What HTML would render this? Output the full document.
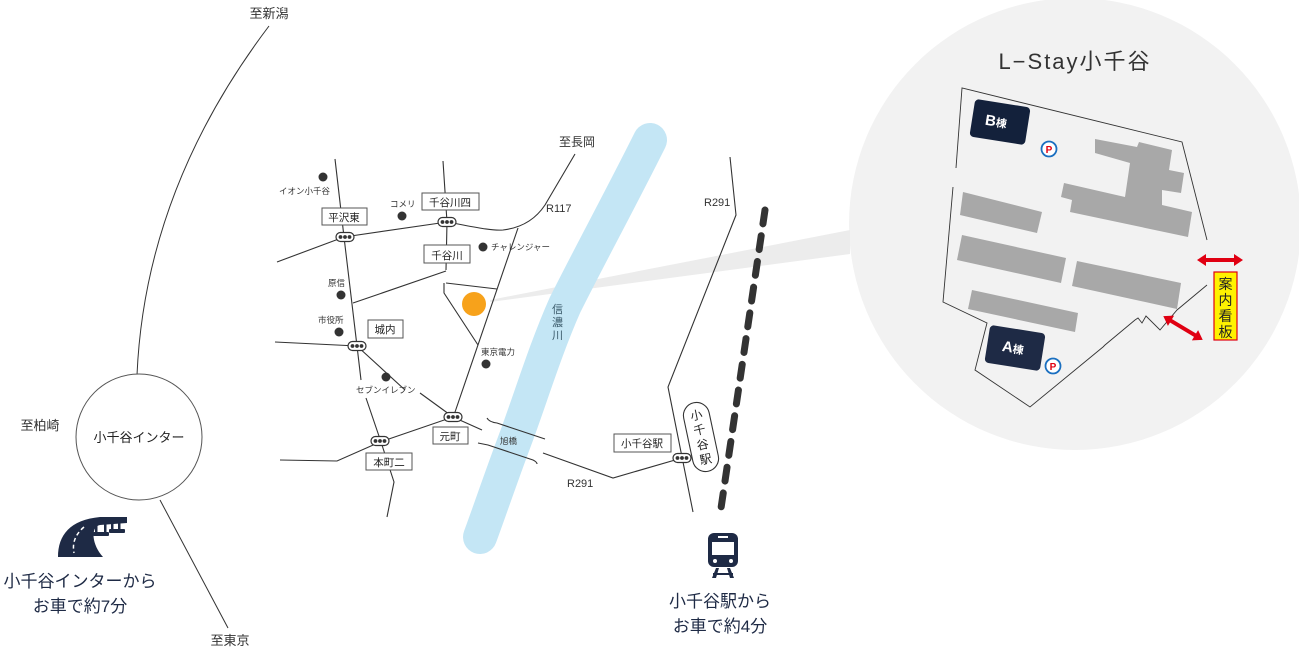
<!DOCTYPE html>
<html><head><meta charset="utf-8"><style>
html,body{margin:0;padding:0;background:#fff;}
svg{display:block;font-family:"Liberation Sans","Noto Sans CJK JP",sans-serif;}
</style></head><body>
<svg width="1299" height="650" viewBox="0 0 1299 650" xmlns="http://www.w3.org/2000/svg">
<defs>
<g id="sig"><rect x="-9" y="-4.5" width="18" height="9" rx="4.5" fill="#fff" stroke="#333" stroke-width="1.2"/><circle cx="-4.5" cy="0" r="1.9" fill="#333"/><circle cx="0" cy="0" r="1.9" fill="#333"/><circle cx="4.5" cy="0" r="1.9" fill="#333"/></g>
</defs>
<!-- big circle -->
<circle cx="1075" cy="224" r="226" fill="#f2f2f2"/>
<polygon points="490,300 850,230 850,254 490,302" fill="#ececec"/>
<!-- river -->
<path d="M650,140 C620,200 590,255 565,305 C545,350 530,400 515,440 C500,480 490,510 480,537" fill="none" stroke="#c4e6f5" stroke-width="34" stroke-linecap="round"/>
<text x="552" y="313" font-size="11" fill="#3a5a6a">信</text>
<text x="552" y="326" font-size="11" fill="#3a5a6a">濃</text>
<text x="552" y="339" font-size="11" fill="#3a5a6a">川</text>
<!-- left highway -->
<g fill="none" stroke="#333" stroke-width="1">
<path d="M269,26 Q145,190 137,375"/>
<path d="M160,500 L228,628"/>
</g>
<circle cx="139" cy="437" r="63" fill="#fff" stroke="#555" stroke-width="1"/>
<text x="139" y="442" font-size="13" text-anchor="middle" fill="#222">小千谷インター</text>
<text x="269" y="18" font-size="13" text-anchor="middle" fill="#333">至新潟</text>
<text x="40" y="430" font-size="13" text-anchor="middle" fill="#333">至柏崎</text>
<text x="230" y="645" font-size="13" text-anchor="middle" fill="#333">至東京</text>
<!-- roads -->
<g fill="none" stroke="#333" stroke-width="1.1">
<path d="M335,159 L344,237 L357,346 L361,380"/>
<path d="M366,398 L381,442 L394,482 L387,517"/>
<path d="M277,262 L344,237 L447,222 C470,226 490,231 503,230 C520,228 535,220 545,205 L575,154"/>
<path d="M443,161 L447,222 L446,270"/>
<path d="M444,283 L444,293 L478,345"/>
<path d="M353,303 L446,271"/>
<path d="M446,283 L497,289"/>
<path d="M518,228 L454,415"/>
<path d="M275,342 L357,346 L405,390"/>
<path d="M420,393 L453,417 L380,442 L337,461 L280,460"/>
<path d="M453,417 L482,430"/>
<path d="M487,418 Q489,422 497,423 L542,438 L545,439"/>
<path d="M478,443 L488,445 L533,460 Q537,462 537,464"/>
<path d="M543,453 L613,478 L682,458"/>
<path d="M730,157 L736,215 L668,387 L693,512"/>
</g>
<!-- railway -->
<path d="M765,210 L720,515" stroke="#333" stroke-width="7" stroke-dasharray="14,12" stroke-linecap="round" fill="none"/>
<g transform="translate(701,437) rotate(-12)">
<rect x="-13" y="-35" width="26" height="70" rx="13" fill="#fff" stroke="#333" stroke-width="1.1"/>
<text x="0" y="-18" font-size="12" text-anchor="middle" fill="#222">小</text>
<text x="0" y="-3" font-size="12" text-anchor="middle" fill="#222">千</text>
<text x="0" y="12" font-size="12" text-anchor="middle" fill="#222">谷</text>
<text x="0" y="27" font-size="12" text-anchor="middle" fill="#222">駅</text>
</g>
<!-- signals -->
<use href="#sig" x="345" y="237"/><use href="#sig" x="447" y="222"/><use href="#sig" x="357" y="346"/>
<use href="#sig" x="453" y="417"/><use href="#sig" x="380" y="441"/><use href="#sig" x="682" y="458"/>
<!-- label boxes -->
<g fill="#fff" stroke="#555" stroke-width="1">
<rect x="322" y="208" width="45" height="17"/><rect x="422" y="193" width="57" height="17"/>
<rect x="424" y="245" width="46" height="18"/><rect x="368" y="320" width="35" height="18"/>
<rect x="433" y="427" width="35" height="17"/><rect x="366" y="453" width="46" height="17"/>
<rect x="614" y="434" width="57" height="18"/>
</g>
<g font-size="10.5" fill="#222" text-anchor="middle">
<text x="344" y="221">平沢東</text><text x="450" y="206">千谷川四</text><text x="447" y="259">千谷川</text>
<text x="385" y="333">城内</text><text x="450" y="440">元町</text><text x="389" y="466">本町二</text><text x="642" y="447">小千谷駅</text>
</g>
<!-- POIs -->
<g fill="#333">
<circle cx="323" cy="177" r="4.5"/><circle cx="402" cy="216" r="4.5"/><circle cx="483" cy="247" r="4.5"/>
<circle cx="341" cy="295" r="4.5"/><circle cx="339" cy="332" r="4.5"/><circle cx="486" cy="364" r="4.5"/><circle cx="386" cy="377" r="4.5"/>
</g>
<g font-size="8.5" fill="#333">
<text x="279" y="194">イオン小千谷</text><text x="390" y="207">コメリ</text><text x="491" y="250">チャレンジャー</text>
<text x="328" y="286">原信</text><text x="318" y="323">市役所</text><text x="481" y="355">東京電力</text><text x="356" y="393">セブンイレブン</text>
<text x="500" y="444">旭橋</text>
</g>
<g font-size="11" fill="#333">
<text x="577" y="146" font-size="12" text-anchor="middle">至長岡</text>
<text x="546" y="212">R117</text><text x="704" y="206">R291</text><text x="567" y="487">R291</text>
</g>
<circle cx="474" cy="304" r="12" fill="#f7a21b"/>
<!-- lot -->
<text x="1075" y="69" font-size="22" text-anchor="middle" fill="#333" letter-spacing="2">L−Stay小千谷</text>
<polyline points="956,168 962,88 1182,142 1207,240" fill="none" stroke="#333" stroke-width="0.9"/>
<polyline points="953,187 943,302 987,323 975,370 1030,407 1103,347 1105,345 1135,320 1138,318 1142,323 1146,316 1160,330 1177,310 1207,285" fill="none" stroke="#333" stroke-width="0.9"/>
<g fill="#a8a8a8">
<polygon points="963,192 1042,212 1037,233 960,215"/>
<polygon points="962,235 1066,258 1061,283 957,260"/>
<polygon points="1077,261 1181,283 1177,309 1072,286"/>
<polygon points="972,290 1078,313 1075,332 968,309"/>
<polygon points="1095,139 1137,147 1139,142 1172,150 1169,170 1184,173 1181,193 1162,190 1162,205 1192,212 1188,237 1070,212 1072,200 1061,197 1064,183 1125,197 1130,163 1095,153"/>
</g>
<g transform="translate(1000,122) rotate(9)"><rect x="-28" y="-19" width="56" height="38" rx="4" fill="#13213b"/><text x="-4" y="5" font-size="15" font-weight="bold" fill="#fff" text-anchor="middle">B<tspan font-size="11">棟</tspan></text></g>
<g transform="translate(1015,348) rotate(9)"><rect x="-28" y="-19" width="56" height="38" rx="4" fill="#1e2a45"/><text x="-2" y="5" font-size="15" font-weight="bold" fill="#fff" text-anchor="middle">A<tspan font-size="11">棟</tspan></text></g>
<g font-size="10" font-weight="bold" fill="#e00012" text-anchor="middle">
<circle cx="1049" cy="149" r="7.5" fill="#fff" stroke="#1a6fc0" stroke-width="1.8"/><text x="1049" y="153">P</text>
<circle cx="1053" cy="366" r="7.5" fill="#fff" stroke="#1a6fc0" stroke-width="1.8"/><text x="1053" y="370">P</text>
</g>
<g fill="#e00012">
<path d="M1197,260 L1206,254 L1206,258 L1234,258 L1234,254 L1243,260 L1234,266 L1234,262 L1206,262 L1206,266 Z"/>
<g transform="translate(1183,328) rotate(31)"><path d="M-23,0 L-14,-6 L-14,-2 L14,-2 L14,-6 L23,0 L14,6 L14,2 L-14,2 L-14,6 Z"/></g>
</g>
<rect x="1214" y="272" width="23" height="68" fill="#fff200" stroke="#e00012" stroke-width="1.2"/>
<g font-size="14" fill="#222" text-anchor="middle">
<text x="1225.5" y="289">案</text><text x="1225.5" y="305">内</text><text x="1225.5" y="321">看</text><text x="1225.5" y="337">板</text>
</g>
<!-- highway icon -->
<g fill="#1e2a45">
<path d="M58,557 C58,535 70,520 100,517 L127,517 L127,523 L100,525 C90,527 92,545 103,557 Z"/>
<rect x="95" y="522" width="2.5" height="10"/><rect x="104" y="522" width="2.5" height="10"/><rect x="93" y="532" width="16" height="4" rx="1"/>
<rect x="111" y="522" width="2.5" height="8"/><rect x="118" y="522" width="2.5" height="8"/><rect x="109" y="529" width="16" height="4" rx="1"/>
</g>
<path d="M84,527 Q71,538 74,553" stroke="#fff" stroke-width="1.5" stroke-dasharray="4,3" fill="none"/>
<g font-size="17" fill="#1e2a45" text-anchor="middle">
<text x="80" y="587">小千谷インターから</text><text x="80" y="612">お車で約7分</text>
<text x="720" y="607">小千谷駅から</text><text x="720" y="632">お車で約4分</text>
</g>
<!-- train icon -->
<g fill="#1e2a45">
<rect x="708" y="533" width="30" height="34" rx="6"/>
<path d="M712,578 L716,568 L719,568 L716,578 Z M734,578 L730,568 L727,568 L730,578 Z"/>
<rect x="713" y="573" width="20" height="2"/>
</g>
<rect x="712" y="542" width="22" height="13" fill="#fff"/>
<rect x="718" y="536" width="10" height="2" fill="#fff"/>
<circle cx="715" cy="561" r="2" fill="#fff"/><circle cx="731" cy="561" r="2" fill="#fff"/>
</svg>
</body></html>
